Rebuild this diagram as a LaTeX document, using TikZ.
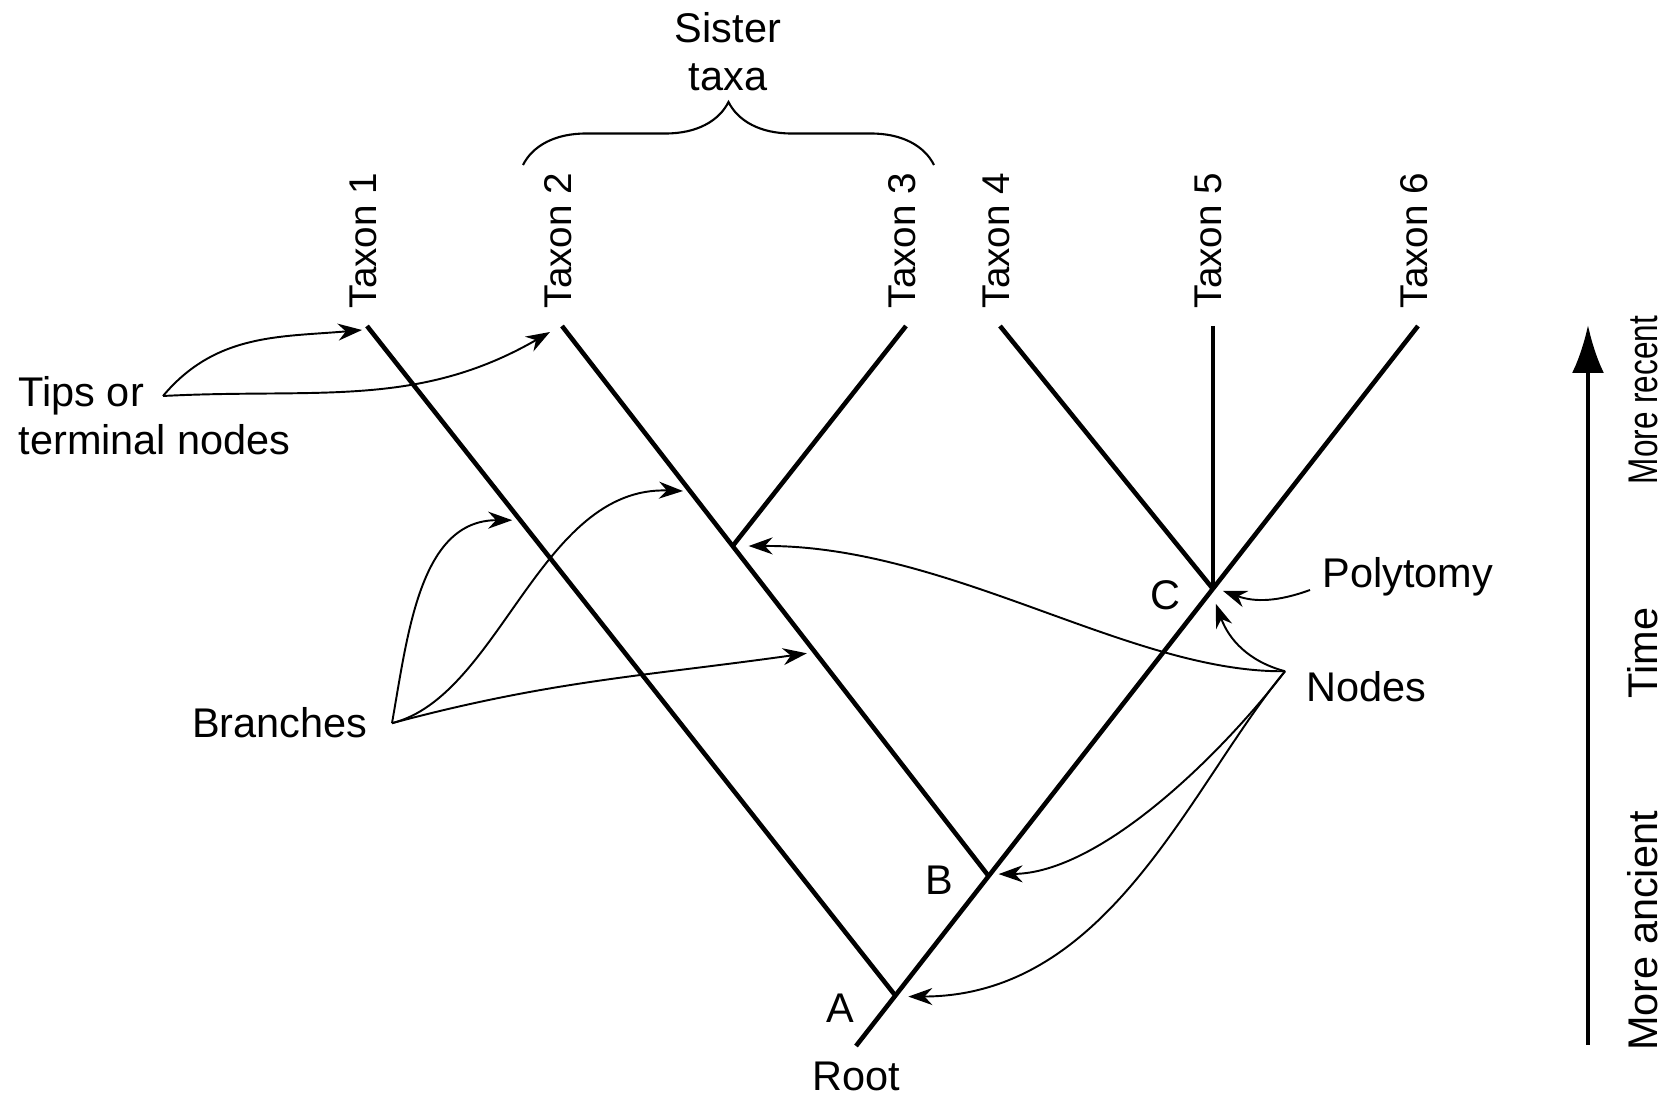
\documentclass[tikz,border=0pt]{standalone}
\usepackage{fontspec}
\setmainfont{Liberation Sans}
\usepackage{graphicx}
\usepackage{tikz}
\usetikzlibrary{calc}
\usetikzlibrary{arrows.meta}
\usetikzlibrary{decorations.pathreplacing}

\begin{document}
\begin{tikzpicture}[
	every node/.style={font=\fontsize{11.8}{13.6}\selectfont, inner sep=0pt},
	branch/.style={line width=1.3pt},
	pointer/.style={line width=0.55pt, -{Stealth[length=2.4mm, width=1.7mm]}},
	taxon/.style={rotate=90, anchor=west, font=\fontsize{11}{13}\selectfont}]

	\useasboundingbox (0,0) rectangle (16.67,10.96);

	\coordinate (root) at (8.56,0.50);
	\coordinate (t6) at (14.18,7.70);
	\coordinate (A) at ($(root)!0.07!(t6)$);
	\coordinate (B) at ($(root)!0.236!(t6)$);
	\coordinate (C) at ($(root)!0.635!(t6)$);
	\coordinate (t1) at (3.67,7.70);
	\coordinate (t2) at (5.62,7.70);
	\coordinate (t3) at (9.06,7.70);
	\coordinate (t4) at (10.00,7.70);
	\coordinate (t5) at (C |- t4);
	\coordinate (D) at ($(t2)!0.4!(B)$);

	\draw [branch] (root) -- (t6);
	\draw [branch] (t1) -- (A);
	\draw [branch] (t2) -- (B);
	\draw [branch] (t3) -- (D);
	\draw [branch] (t4) -- (C);
	\draw [branch] (t5) -- (C);

	\node [taxon] (lab1) at ($(t1)+(-0.04,0.17)$) {Taxon 1};
	\node [taxon] (lab2) at ($(t2)+(-0.04,0.17)$) {Taxon 2};
	\node [taxon] (lab3) at ($(t3)+(-0.04,0.17)$) {Taxon 3};
	\node [taxon] (lab4) at ($(t4)+(-0.04,0.17)$) {Taxon 4};
	\node [taxon] (lab5) at ($(t5)+(-0.04,0.17)$) {Taxon 5};
	\node [taxon] (lab6) at ($(t6)+(-0.04,0.17)$) {Taxon 6};

	\node [] (labA) at (8.40,0.88) {A};
	\node [] (labB) at (9.39,2.16) {B};
	\node [] (labC) at (11.65,5.01) {C};
	\node [] (labroot) at (8.56,0.20) {Root};

	\draw [line width=0.6pt, decorate, decoration={brace, amplitude=0.63cm}] (5.23,9.31) -- (9.34,9.31);
	\node [align=center] (sister) at (7.28,10.44) {Sister\\taxa};

	\node [anchor=west, align=left] (tips) at (0.18,6.80) {Tips or\\terminal nodes};
	\draw [pointer] ($(tips.west)+(1.45,0.20)$) to[out=50, in=185] ($(t1)+(-0.05,-0.04)$);
	\draw [pointer] ($(tips.west)+(1.45,0.20)$) to[out=3, in=210] ($(t2)+(-0.12,-0.06)$);

	\node [anchor=base east] (branches) at (3.68,3.58) {Branches};
	\draw [pointer] ($(branches.east)+(0.24,0)$) to[out=80, in=180] ($(t1)!0.29!(A)+(-0.08,0)$);
	\draw [pointer] ($(branches.east)+(0.24,0)$) .. controls (5.0,4.0) and (5.4,6.1) .. ($(t2)!0.30!(B)+(-0.07,0)$);
	\draw [pointer] ($(branches.east)+(0.24,0)$) to[out=15, in=188] ($(t2)!0.595!(B)+(-0.09,0)$);

	\node [anchor=base west] (poly) at (13.22,5.08) {Polytomy};
	\draw [pointer] ($(poly.base west)+(-0.12,-0.02)$) to[out=200, in=-20] ($(C)+(0.10,-0.02)$);

	\node [anchor=base west] (nodes) at (13.06,3.94) {Nodes};
	\draw [pointer] ($(nodes.north west)+(-0.21,0)$) .. controls (11.3,4.23) and (9.5,5.51) .. ($(D)+(0.16,0)$);
	\draw [pointer] ($(nodes.north west)+(-0.21,0)$) to[out=165, in=-70] ($(C)+(0.03,-0.15)$);
	\draw [pointer] ($(nodes.north west)+(-0.21,0)$) .. controls (12.2,3.4) and (11.0,2.23) .. ($(B)+(0.10,0.02)$);
	\draw [pointer] ($(nodes.north west)+(-0.21,0)$) .. controls (11.9,3.1) and (11.1,1.0) .. ($(A)+(0.13,-0.01)$);

	\coordinate (ancient) at (15.88,0.51);
	\coordinate (recent) at (15.88,7.71);
	\draw [line width=1.2pt, -{Latex[length=4.8mm, width=3.2mm]}] (ancient) -- (recent);
	\node [rotate=90] (labrecent) at (16.43,6.96) {\scalebox{0.76}[1]{More recent}};
	\node [rotate=90] (labtime) at (16.43,4.43) {Time};
	\node [rotate=90] (labancient) at (16.43,1.65) {More ancient};

\end{tikzpicture}
\end{document}
